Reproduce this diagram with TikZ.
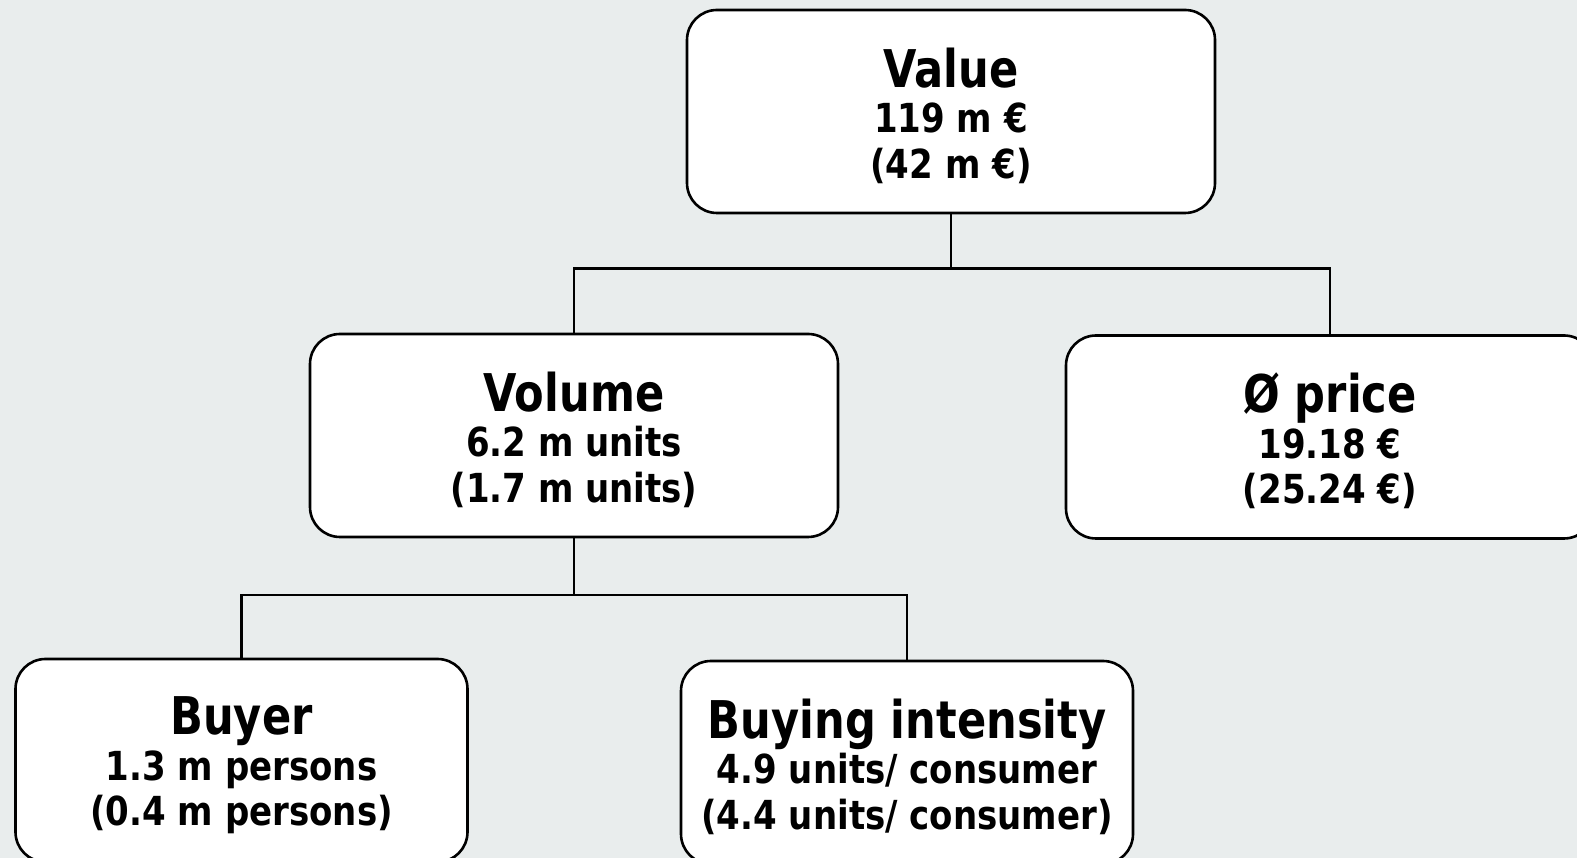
\documentclass[tikz,border=0pt]{standalone}
\usepackage{fontspec}
\setmainfont{DejaVu Sans}[FakeStretch=0.85]
\newfontfamily\ttlfont{DejaVu Sans}[FakeStretch=0.83]
\definecolor{bg}{HTML}{E9EDED}
\begin{document}
\begin{tikzpicture}[x=1pt,y=1pt,
  box/.style={draw=black, line width=2.6pt, fill=white, rounded corners=30pt,
    minimum height=203pt, align=center, inner sep=0pt,
    font=\bfseries\fontsize{40}{45.5}\selectfont},
  wide/.style={minimum width=528pt},
  narrow/.style={minimum width=452pt},
  link/.style={draw=black, line width=2.6pt}]
\fill[bg] (0,0) rectangle (1577,858);
\useasboundingbox (0,0) rectangle (1577,858);
\newcommand\ttl[1]{{\ttlfont\bfseries\fontsize{52}{45.5}\selectfont\rule{0pt}{48pt}#1}}
\node[box,wide] (value) at (951,746.5) {\ttl{Value}\\119 m €\\(42 m €)};
\node[box,wide] (volume) at (574,422.5) {\ttl{Volume}\\6.2 m units\\(1.7 m units)};
\node[box,wide] (price) at (1330,421) {\ttl{Ø price}\\19.18 €\\(25.24 €)};
\node[box,narrow] (buyer) at (241.5,97.5) {\ttl{Buyer}\\1.3 m persons\\(0.4 m persons)};
\node[box,narrow] (intensity) at (907,95.5) {\ttl{Buying intensity}\\4.9 units/ consumer\\(4.4 units/ consumer)};
\coordinate (j1) at (value.south |- 0,589.5);
\coordinate (j2) at (volume.south |- 0,263);
\draw[link] (value.south) -- (j1);
\draw[link] (j1) -| (volume.north);
\draw[link] (j1) -| (price.north);
\draw[link] (volume.south) -- (j2);
\draw[link] (j2) -| (buyer.north);
\draw[link] (j2) -| (intensity.north);
\end{tikzpicture}
\end{document}
